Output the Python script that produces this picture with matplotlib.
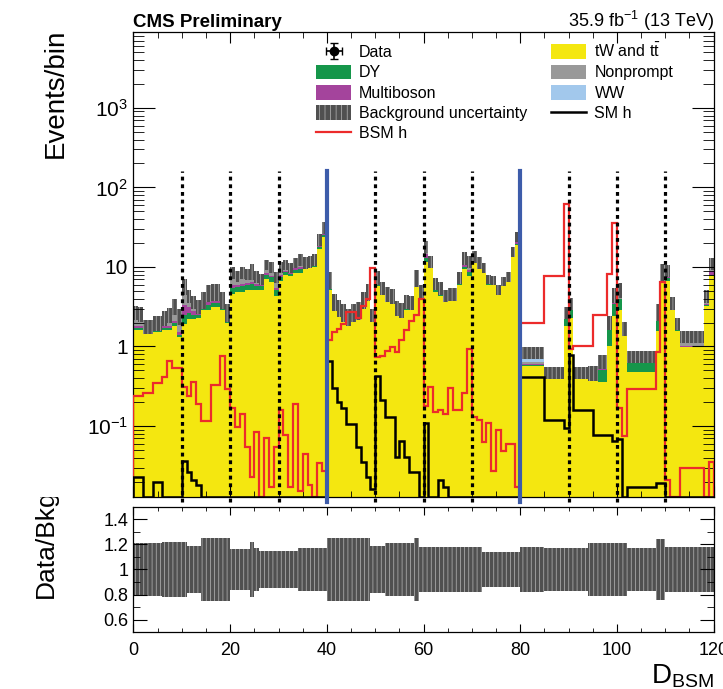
import matplotlib
matplotlib.use('Agg')
import matplotlib.pyplot as plt
import numpy as np
from matplotlib.patches import Patch
from matplotlib.lines import Line2D
from matplotlib.ticker import MultipleLocator, FixedLocator, FixedFormatter, LogLocator, NullFormatter
from matplotlib.transforms import Bbox, TransformedBbox

plt.rcParams['font.family'] = ['Liberation Sans', 'DejaVu Sans']
plt.rcParams['mathtext.fontset'] = 'custom'
plt.rcParams['mathtext.rm'] = 'Liberation Sans'
plt.rcParams['mathtext.it'] = 'Liberation Sans:italic'
plt.rcParams['hatch.linewidth'] = 0.5

# ---- values (120 bins of D_BSM) ----
tt = [1.6, 1.6, 1.5, 1.5, 1.5, 1.5, 1.6, 1.6, 1.8, 1.3,
      1.9, 2.2, 2.2, 2.3, 2.9, 2.9, 3.1, 3.1, 2.9, 2.0,
      4.5, 4.8, 4.9, 5.2, 5.2, 5.2, 5.2, 7.0, 6.4, 4.3,
      6.6, 8.0, 7.6, 8.5, 8.5, 9.3, 10.0, 10.0, 16.6, 23.5,
      5.2, 2.9, 2.5, 2.2, 2.0, 2.2, 2.5, 3.2, 3.9, 2.3,
      5.7, 4.5, 3.9, 3.4, 2.5, 2.5, 2.9, 2.9, 5.7, 4.3,
      11.4, 9.8, 4.9, 4.3, 3.6, 3.9, 3.9, 6.0, 9.3, 7.6,
      11.4, 10.0, 8.8, 6.0, 6.0, 4.5, 5.7, 6.6, 13.5, 19.0,
      0.56, 0.56, 0.56, 0.56, 0.56, 0.41, 0.41, 0.41, 0.41, 1.8,
      2.3, 0.41, 0.41, 0.41, 0.41, 0.41, 0.36, 0.36, 1.0, 2.4,
      2.9, 1.5, 0.48, 0.48, 0.48, 0.48, 0.48, 0.48, 1.55, 6.4,
      6.6, 2.9, 1.55, 0.97, 0.97, 0.97, 0.97, 0.97, 3.2, 7.6]

dy = [.1, .1, .05, .05, .05, .05, .1, .1, .15, .1,
      .6, .4, .3, .2, .3, .4, .4, .4, .2, .1,
      1.0, .8, .9, .8, .9, .6, .5, 1.0, 1.0, .9,
      .9, .7, .5, .7, .9, .5, .4, .5, 1.0, 1.5,
      .4, .2, .15, .1, .1, .1, .1, .2, .3, .05,
      .4, .3, .2, .2, .15, .1, .2, .2, .4, .2,
      1.5, .6, .4, .4, .3, .3, .3, .4, .8, 1.0,
      .3, .2, .1, .1, .1, .1, .1, .1, .3, .5] + \
     [.03] * 9 + [.5] + [.6] + [.03] * 5 + [.15, .15, .6, 1.0] + \
     [1.0, .05] + [.17] * 6 + [.6, .6] + [.6, .1, .05] + [.02] * 5 + [.1, .3]

multiboson = [.1, .1, .05, .05, .05, .05, .1, .1, .15, .1,
              .8, .5, .3, .2, .3, .7, .7, .7, .3, .1,
              .4, .3, .3, .3, .3, .3, .2, .3, .3, .3,
              .3, .3, .3, .4, .6, .4, .4, .5, 1.2, 1.8,
              .4, .1, .05, .05, .05, .05, .05, .1, .1, .03,
              .3, .1, .1, .1, .05, .05, .1, .1, .3, .1,
              1.8, .3, .1, .1, .05, .05, .05, .1, .9, .5,
              .3, .2, .2, .1, .1, .1, .1, .1, .3, .8] + \
             [.01] * 5 + [.005] * 4 + [.05] + [.05] + [.005] * 5 + [.01, .01, .02, .1] + \
             [.1, .02] + [.01] * 6 + [.05, .2] + [.2, .05, .05] + [.01] * 5 + [.1, 1.0]

nonprompt = [.5, .4, .1, .1, .2, .2, .25, .35, .5, .5,
             1.2, .6, .4, .25, .2, .4, .35, .35, .25, .3,
             1.3, .8, 1.2, .9, 1.2, .7, .5, 1.2, 1.1, .9,
             1.0, .8, .6, .8, 1.1, .6, .4, .6, 1.4, 1.8,
             .5, .25, .2, .15, .1, .15, .1, .2, .3, .06,
             .5, .3, .2, .3, .2, .1, .25, .2, .5, .2,
             1.5, .5, .4, .3, .2, .15, .15, .4, 1.0, 1.2,
             .7, .5, .3, .4, .3, .25, .3, .4, .7, 1.6] + \
            [.04] * 5 + [.01] * 4 + [.15] + [.25] + [.01] * 5 + [.05, .05, .2, .5] + \
            [.6, .06] + [.04] * 6 + [.25, .8] + [.8, .2, .15] + [.2] * 5 + [.5, 1.0]

ww = [.4, .4, .1, .1, .2, .2, .25, .35, .6, .4,
      1.2, .6, .4, .25, .2, .4, .35, .35, .25, .2,
      1.3, .9, 1.2, 1.0, 1.2, .8, .6, 1.2, 1.2, 1.0,
      1.2, .9, .8, 1.0, 1.3, .6, .5, .8, 1.8, 2.4,
      .5, .25, .2, .2, .15, .2, .15, .2, .3, .06,
      .5, .3, .2, .3, .2, .15, .25, .2, .5, .2,
      1.8, .5, .4, .3, .25, .2, .2, .5, 1.0, 1.4,
      .8, .5, .4, .4, .3, .25, .4, .4, .9, 2.1] + \
     [.2] * 5 + [.015] * 4 + [.2] + [.3] + [.015] * 5 + [.08, .08, .2, .5] + \
     [.6, .07] + [.05] * 6 + [.3, .8] + [.8, .25, .15] + [.14] * 5 + [.4, 1.1]

bsm_h = [.235, .235, .26, .26, .35, .35, .41, .65, .53, .53,
         .31, .235, .36, .19, .115, .115, .33, .33, .75, .29,
         .17, .096, .14, .055, .023, .083, 0, .07, .017, .054,
         .16, .078, .017, .19, .015, .045, .018, 0, .034, .027,
         1.22, 1.5, 1.64, 1.9, 2.7, 2.7, 2.3, 3.2, 4.0, 9.8,
         .73, .75, .87, .97, .84, 1.2, 1.6, 2.1, 2.5, 4.0,
         .18, .31, .15, .16, .14, .30, .16, .16, .26, .92,
         .13, .12, .062, .11, .027, .09, .048, .06, .06, .017] + \
        [1.95] * 5 + [7.6] * 4 + [61] + [.92] + [1.0] * 4 + [2.5] * 3 + [8.1, 36] + \
        [.17, .074] + [.29] * 6 + [.84, 6.4] + [.021, 0, 0] + [.03] * 5 + [0, .035]

sm_h = [.023, .023, 0, 0, .02, .02, 0, 0, 0, 0,
        .036, .026, .021, .018, 0, 0, 0, 0, 0, 0] + [0] * 20 + \
       [.65, .30, .20, .17, .105, .105, .055, .035, .023, .016,
        .42, .215, .128, .128, .041, .064, .041, .026, .026, 0,
        .11, 0, 0, .021, .017, 0, 0, 0, 0, 0] + [0] * 10 + \
       [.41] * 5 + [.12] * 4 + [.093] + [.77] + [.16] * 4 + [.078] * 4 + [.064] + \
       [.068, 0] + [.017] * 6 + [.019, .019] + [0] * 10

# relative background uncertainty per bin (from the ratio panel)
bkg_unc = [.21] * 6 + [.22] * 5 + [.19] * 3 + [.25] * 6 + [.16] * 4 + [.22, .17] + \
          [.15] * 8 + [.17] * 6 + [.25] * 9 + [.19] * 3 + [.21] * 6 + [.25] + \
          [.18] * 13 + [.14] * 8 + [.18] * 5 + [.17] * 9 + [.21] * 8 + [.17] * 6 + \
          [.24] * 2 + [.18] * 10

dashed_x = [10, 20, 30, 50, 60, 70, 90, 100, 110]
blue_x = [40, 80]

stack = [('tW and t$\\bar{\\mathrm{t}}$', tt, '#f4e710'),
         ('DY', dy, '#15964a'),
         ('Multiboson', multiboson, '#a4449c'),
         ('Nonprompt', nonprompt, '#999999'),
         ('WW', ww, '#a2c8ec')]

edges = np.arange(121)
centers = edges[:-1] + 0.5
ymin, ymax = 0.0128, 9000
band_col = '#505050'
hatch_col = '#b8b8b8'

fig = plt.figure(figsize=(7.23, 6.89), dpi=100)
ax = fig.add_axes([0.1846, 0.2787, 0.8025, 0.6749])
ax2 = fig.add_axes([0.1846, 0.0827, 0.8025, 0.1815])

# stacked backgrounds
base = np.full(120, 1e-4)
for name, vals, col in stack:
    top = base + np.array(vals)
    ax.stairs(top, edges, baseline=base, fill=True, color=col, lw=0)
    base = top
total = base - 1e-4
unc = np.array(bkg_unc)

ax.bar(centers, 2 * unc * total, bottom=total * (1 - unc), width=1.0,
       color=band_col, edgecolor=hatch_col, hatch='||||', linewidth=0)

ax.stairs(np.clip(bsm_h, ymin, None), edges, color='#ec2b2b', lw=1.6, zorder=4)
ax.stairs(np.clip(sm_h, ymin, None), edges, color='black', lw=1.8, zorder=4)

for x in dashed_x:
    ax.plot([x, x], [ymin * 0.86, 160], color='black', lw=2.3,
            ls=(0, (1.2, 1.2)), clip_on=False, zorder=5)
for x in blue_x:
    ax.plot([x, x], [ymin * 0.86, 160], color='#3d5caa', lw=3.0,
            clip_on=False, zorder=5)

ax.set_yscale('log')
ax.set_xlim(0, 120)
ax.set_ylim(ymin, ymax)
ax.yaxis.set_major_locator(FixedLocator([0.1, 1, 10, 100, 1000]))
ax.yaxis.set_major_formatter(FixedFormatter(['$10^{-1}$', '1', '10', '$10^{2}$', '$10^{3}$']))
ax.yaxis.set_minor_locator(LogLocator(base=10, subs=np.arange(2, 10)))
ax.yaxis.set_minor_formatter(NullFormatter())
ax.xaxis.set_major_locator(MultipleLocator(20))
ax.xaxis.set_minor_locator(MultipleLocator(5))
ax.tick_params(axis='x', which='both', direction='in', top=True, bottom=True, labelbottom=False)
ax.tick_params(axis='x', which='major', length=8)
ax.tick_params(axis='x', which='minor', length=4)
ax.tick_params(axis='y', which='both', direction='in', left=True, right=True, labelsize=15, pad=4)
ax.tick_params(axis='y', which='major', length=16)
ax.tick_params(axis='y', which='minor', length=8)

# ratio panel
ax2.bar(centers, 2 * unc, bottom=1 - unc, width=1.0,
        color=band_col, edgecolor=hatch_col, hatch='||||', linewidth=0)
ax2.set_xlim(0, 120)
ax2.set_ylim(0.5, 1.5)
ax2.yaxis.set_major_locator(FixedLocator([0.6, 0.8, 1.0, 1.2, 1.4]))
ax2.yaxis.set_major_formatter(FixedFormatter(['0.6', '0.8', '1', '1.2', '1.4']))
ax2.yaxis.set_minor_locator(MultipleLocator(0.1))
ax2.xaxis.set_major_locator(MultipleLocator(20))
ax2.xaxis.set_minor_locator(MultipleLocator(5))
ax2.tick_params(axis='x', which='both', direction='in', top=True, bottom=True, labelsize=13, pad=7)
ax2.tick_params(axis='x', which='major', length=6)
ax2.tick_params(axis='x', which='minor', length=3)
ax2.tick_params(axis='y', which='both', direction='in', left=True, right=True, labelsize=13)
ax2.tick_params(axis='y', which='major', length=10)
ax2.tick_params(axis='y', which='minor', length=5)

for a in (ax, ax2):
    for s in a.spines.values():
        s.set_linewidth(0.9)

# legend
handles = [
    ax.errorbar([-50], [1], xerr=0.9, yerr=0.5, fmt='o', color='black', ms=6,
                capsize=3, lw=1.2, clip_on=True),
    Patch(facecolor=stack[1][2]),
    Patch(facecolor=stack[2][2]),
    Patch(facecolor=band_col, edgecolor=hatch_col, hatch='|||', linewidth=0),
    Line2D([], [], color='#ec2b2b', lw=1.6),
    Patch(facecolor=stack[0][2]),
    Patch(facecolor=stack[3][2]),
    Patch(facecolor=stack[4][2]),
    Line2D([], [], color='black', lw=1.8),
]
labels = ['Data', 'DY', 'Multiboson', 'Background uncertainty', 'BSM h',
          stack[0][0], 'Nonprompt', 'WW', 'SM h']
fig.legend(handles, labels, ncol=2, loc='upper left',
           bbox_to_anchor=(316 / 723, 1 - 42 / 689), bbox_transform=fig.transFigure,
           frameon=False, fontsize=11.5, handlelength=2.2, handleheight=1.05,
           handletextpad=0.5, labelspacing=0.28, columnspacing=1.5,
           borderpad=0, borderaxespad=0)

# texts
fig.text(133 / 723, 1 - 27 / 689, 'CMS Preliminary', fontsize=13.5, fontweight='bold',
         ha='left', va='baseline')
fig.text(714 / 723, 1 - 27 / 689, '35.9 fb$^{-1}$ (13 TeV)', fontsize=13,
         ha='right', va='baseline')
fig.text(56 / 723, 1 - 29 / 689, 'Events/bin', fontsize=20, rotation=90,
         ha='center', va='top')
t = fig.text(46 / 723, 1 - 598 / 689, 'Data/Bkg', fontsize=19, rotation=90,
             ha='center', va='bottom')
t.set_clip_box(TransformedBbox(Bbox([[0, 0], [1, 1 - 497 / 689]]), fig.transFigure))
t.set_clip_on(True)
fig.text(714 / 723, 5 / 689, 'D$_{\\mathrm{BSM}}$', fontsize=20, ha='right', va='baseline')

fig.savefig('out.png', dpi=100)
